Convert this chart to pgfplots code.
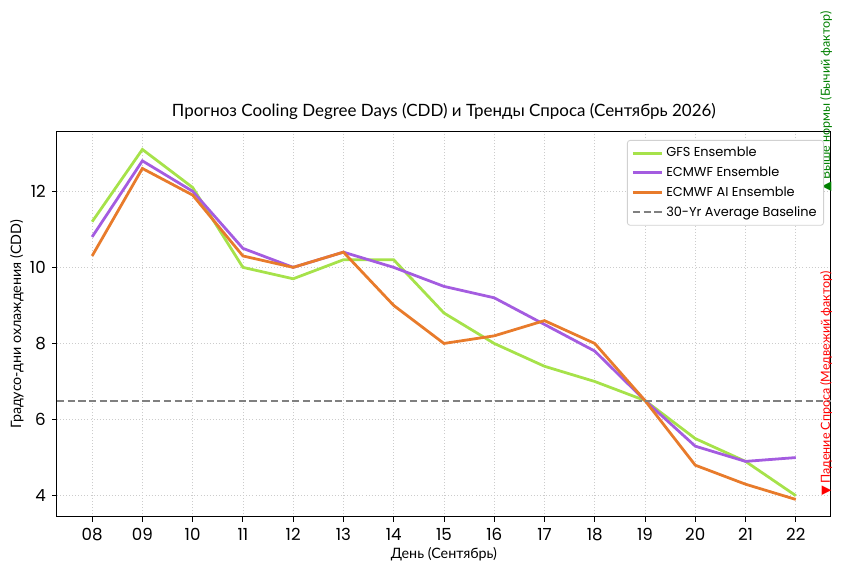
\documentclass[border=0pt]{standalone}
\usepackage{fontspec}
\setmainfont{Lato}
\newfontfamily\pop{Poppins}
\newfontfamily\sym{DejaVu Sans}
\usepackage{pgfplots}
\usepackage{pgfplotstable}
\pgfplotsset{compat=1.18}
\definecolor{gfs}{RGB}{166,226,74}
\definecolor{ecm}{RGB}{164,92,224}
\definecolor{ai}{RGB}{232,123,43}
\definecolor{basec}{RGB}{128,128,128}
\definecolor{mgreen}{RGB}{0,128,0}
\definecolor{mred}{RGB}{255,0,0}
\pgfplotstableread{
x gfs ecm ai
0 11.2 10.8 10.3
1 13.1 12.8 12.6
2 12.1 12.0 11.9
3 10.0 10.5 10.3
4 9.7 10.0 10.0
5 10.2 10.4 10.4
6 10.2 10.0 9.0
7 8.8 9.5 8.0
8 8.0 9.2 8.2
9 7.4 8.5 8.6
10 7.0 7.8 8.0
11 6.5 6.5 6.5
12 5.5 5.3 4.8
13 4.9 4.9 4.3
14 4.0 5.0 3.9
}\cdd
\begin{document}
\begin{tikzpicture}
\begin{axis}[
  scale only axis, width=557.3pt, height=277.2pt,
  xmin=-0.7, xmax=14.7, ymin=3.44, ymax=13.56,
  clip=false,
  xtick={0,...,14},
  xticklabels={08,09,10,11,12,13,14,15,16,17,18,19,20,21,22},
  ytick={4,6,8,10,12},
  tick align=outside, tick pos=left, major tick length=3.5pt,
  tick style={black, line width=0.6pt},
  axis line style={line width=0.7pt},
  grid=major, grid style={dash pattern=on 0.7pt off 1.5pt, black!20, line width=0.5pt},
  /pgf/number format/assume math mode=true,
  ticklabel style={font=\pop\fontsize{12}{14}\selectfont},
  xticklabel style={yshift=-1pt},
  yticklabel style={xshift=-1pt},
  xlabel={День (Сентябрь)},
  xlabel style={at={(axis description cs:0.5,-0.096)}, anchor=center, font=\fontsize{10.3}{12}\selectfont},
  ylabel={Градусо-дни охлаждения (CDD)},
  ylabel style={at={(axis description cs:-0.0517,0.5)}, anchor=center, font=\fontsize{10.3}{12}\selectfont},
  title={Прогноз Cooling Degree Days (CDD) и Тренды Спроса (Сентябрь 2026)},
  title style={at={(axis description cs:0.5,1.0317)}, anchor=center, font=\fontsize{12.2}{14}\selectfont},
  legend style={at={(1,1)}, anchor=north east, xshift=-5pt, yshift=-5.8pt,
    draw=black!18, rounded corners=2pt, line width=0.6pt,
    font=\pop\fontsize{9.3}{10.8}\selectfont, row sep=1.8pt, inner sep=3pt},
  legend cell align=left,
  legend image code/.code={\draw[#1] (0pt,0pt) -- (21pt,0pt);},
]
\addplot[gfs, line width=2pt] table[x=x, y=gfs] {\cdd};
\addlegendentry{GFS Ensemble}
\addplot[ecm, line width=2pt] table[x=x, y=ecm] {\cdd};
\addlegendentry{ECMWF Ensemble}
\addplot[ai, line width=2pt] table[x=x, y=ai] {\cdd};
\addlegendentry{ECMWF AI Ensemble}
\addplot[basec, line width=1.45pt, dash pattern=on 5.2pt off 2.5pt] coordinates {(-0.7,6.5) (14.7,6.5)};
\addlegendentry{30-Yr Average Baseline}
\node[rotate=90, anchor=north west, inner sep=0pt, text=mgreen, font=\fontsize{9}{10}\selectfont] at (axis cs:14.48,12) {{\sym\small ▲}\,Выше нормы (Бычий фактор)};
\node[rotate=90, anchor=north west, inner sep=0pt, text=mred, font=\fontsize{9}{10}\selectfont] at (axis cs:14.48,4) {{\sym\small ▼}\,Падение Спроса (Медвежий фактор)};
\end{axis}
\pgfresetboundingbox
\path (current axis.south west) ++(-41pt,-39.6pt) rectangle ++(607.7pt,411.8pt);
\end{tikzpicture}
\end{document}
